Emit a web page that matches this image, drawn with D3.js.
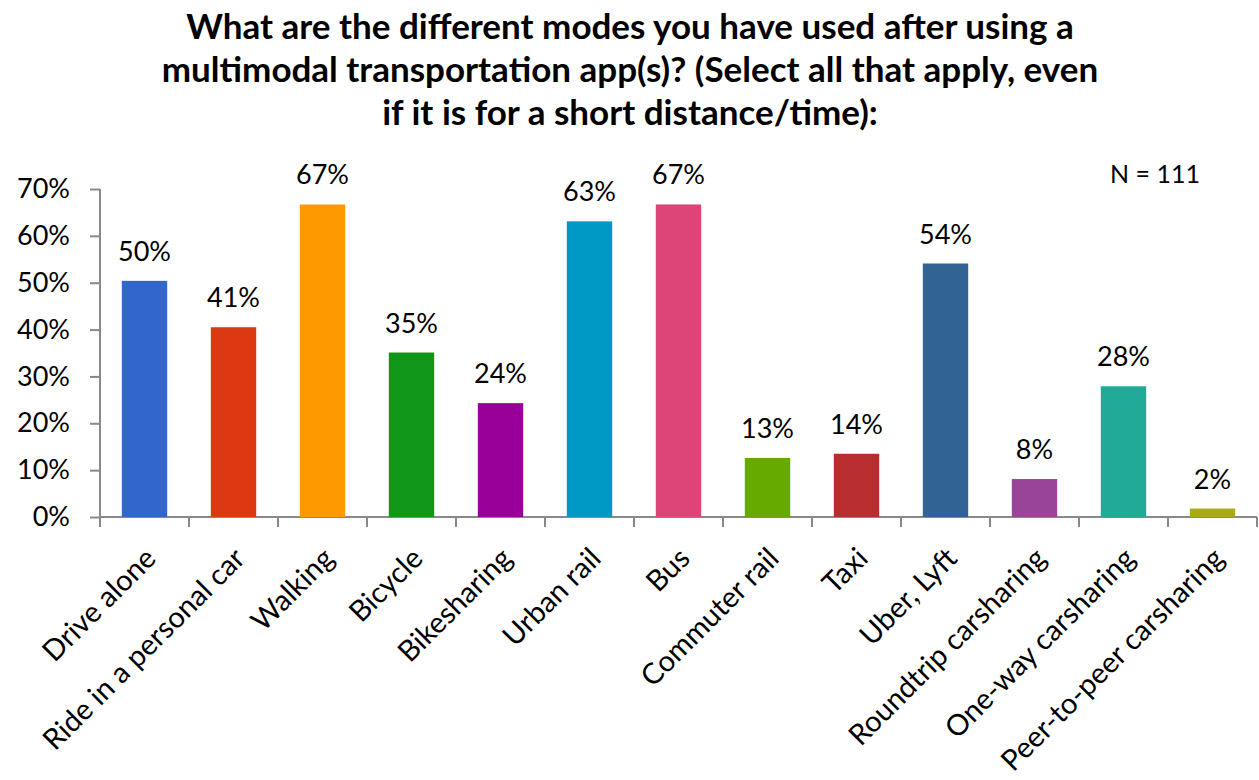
<!DOCTYPE html>
<html>
<head>
<meta charset="utf-8">
<title>Modes used after multimodal app</title>
<script src="https://cdn.jsdelivr.net/npm/d3@7"></script>
<style>
body { margin: 0; background: #fff; }
svg text { font-family: Lato, "Open Sans", sans-serif; fill: #000; }
.axis path, .axis line { stroke: #898989; stroke-width: 2px; }
.axis text { font-size: 27px; }
</style>
</head>
<body>
<svg width="1259" height="780"></svg>
<script>
// data (share of N = 111)
var modes = ["Drive alone", "Ride in a personal car", "Walking", "Bicycle", "Bikesharing",
  "Urban rail", "Bus", "Commuter rail", "Taxi", "Uber, Lyft",
  "Roundtrip carsharing", "One-way carsharing", "Peer-to-peer carsharing"];
var shares = [50.4, 40.5, 66.7, 35.1, 24.3, 63.1, 66.7, 12.6, 13.5, 54.1, 8.1, 27.9, 1.8];
var colors = ["#3366cc", "#dc3912", "#ff9900", "#109618", "#990099", "#0099c6", "#dd4477",
  "#66aa00", "#b82e2e", "#316395", "#994499", "#22aa99", "#aaaa11"];
var yTicks = [0, 10, 20, 30, 40, 50, 60, 70];
var titleLines = ["What are the different modes you have used after using a",
  "multimodal transportation app(s)? (Select all that apply, even",
  "if it is for a short distance/time):"];
var note = "N = 111";

var svg = d3.select("svg");
var plotL = 100, plotR = 1257, plotT = 189, plotB = 517;

var x = d3.scaleBand().domain(modes).range([plotL, plotR]).paddingInner(0.49).paddingOuter(0.245);
var y = d3.scaleLinear().domain([0, 70]).range([plotB, plotT]);

// title
svg.append("g").selectAll("text")
  .data(titleLines)
  .enter().append("text")
  .attr("x", 630)
  .attr("y", function(d, i) { return 39 + i * 43; })
  .attr("text-anchor", "middle")
  .style("font-size", "35px")
  .style("font-weight", "bold")
  .text(function(d) { return d; });

// y axis
svg.append("g")
  .attr("class", "axis")
  .attr("transform", "translate(" + plotL + ",0)")
  .call(d3.axisLeft(y).tickValues(yTicks).tickSize(10).tickPadding(20)
    .tickFormat(function(d) { return d + "%"; }))
  .call(function(g) { g.select(".domain").attr("d", "M0," + plotT + "V" + plotB); });

// x axis: ticks sit between bars
var xAxis = svg.append("g")
  .attr("class", "axis")
  .attr("transform", "translate(0," + plotB + ")");
xAxis.append("line").attr("x1", plotL).attr("x2", plotR);
var step = x.step();
xAxis.selectAll(".sep")
  .data(d3.range(modes.length + 1))
  .enter().append("line")
  .attr("class", "sep")
  .attr("x1", function(i) { return plotL + i * step; })
  .attr("x2", function(i) { return plotL + i * step; })
  .attr("y1", 0).attr("y2", 10);

xAxis.selectAll(".lab")
  .data(modes)
  .enter().append("text")
  .attr("class", "lab")
  .attr("transform", function(d) {
    return "translate(" + (x(d) + x.bandwidth() / 2 + 6) + ",36) rotate(-45)";
  })
  .attr("text-anchor", "end")
  .attr("dy", "0.35em")
  .style("font-size", "29px")
  .text(function(d) { return d; });

// bars
svg.append("g").selectAll("rect")
  .data(shares)
  .enter().append("rect")
  .attr("x", function(d, i) { return x(modes[i]); })
  .attr("y", function(d) { return y(d); })
  .attr("width", x.bandwidth())
  .attr("height", function(d) { return plotB - y(d); })
  .attr("fill", function(d, i) { return colors[i]; });

// value labels
svg.append("g").selectAll("text")
  .data(shares)
  .enter().append("text")
  .attr("x", function(d, i) { return x(modes[i]) + x.bandwidth() / 2; })
  .attr("y", function(d) { return y(d) - 20; })
  .attr("text-anchor", "middle")
  .style("font-size", "27px")
  .text(function(d) { return Math.round(d) + "%"; });

svg.append("text")
  .attr("x", 1155)
  .attr("y", 183)
  .attr("text-anchor", "middle")
  .style("font-size", "25px")
  .text(note);
</script>
</body>
</html>
